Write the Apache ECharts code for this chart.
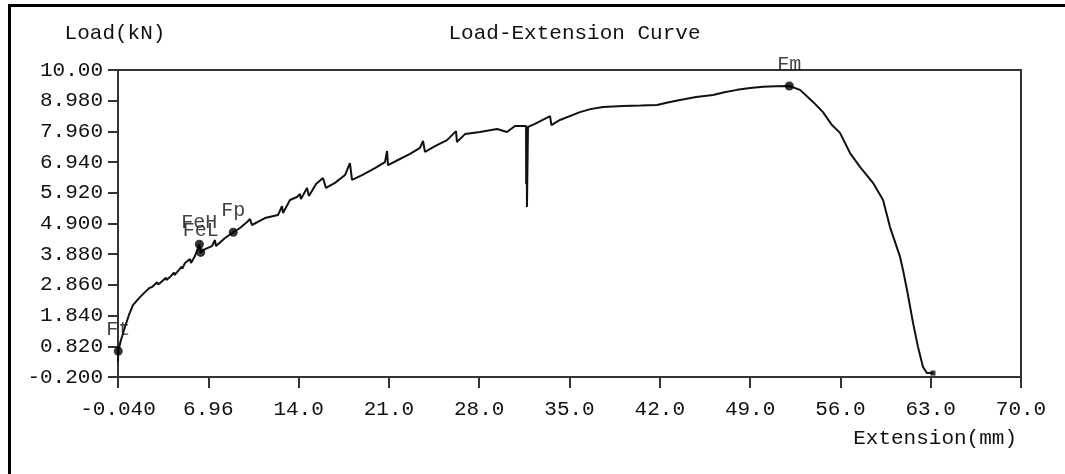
<!DOCTYPE html>
<html>
<head>
<meta charset="utf-8">
<title>Load-Extension Curve</title>
<script src="https://cdn.jsdelivr.net/npm/echarts@6/dist/echarts.min.js"></script>
<style>
  html, body { margin: 0; padding: 0; background: #fff; }
  #chart { width: 1065px; height: 474px; }
</style>
</head>
<body>
<div id="chart"></div>
<script>
// Tensile test record: extension (mm) against load (kN)
const extension = [
  -0.04, -0.02, 0.19, 0.50, 0.81, 1.12, 1.59, 2.05, 2.40, 2.45,
  2.60, 3.00, 3.05, 3.22, 3.68, 3.72, 3.99, 4.30, 4.34, 4.61,
  4.90, 4.95, 5.16, 5.54, 5.62, 5.93, 6.27, 6.37, 6.71,
  7.25, 7.48, 7.56, 8.26, 8.90, 9.42, 9.97, 10.20, 10.35, 11.36,
  12.37, 12.68, 12.76, 13.30, 13.84, 14.08, 14.15, 14.62, 14.77, 15.32,
  15.86, 16.09, 16.79, 17.57, 17.95, 18.11, 18.89, 19.89, 20.67, 20.83,
  20.90, 21.68, 22.61, 23.38, 23.62, 23.77, 24.55, 25.48, 26.18, 26.25,
  26.87, 28.04, 29.36, 30.13, 30.75, 31.61, 31.62, 31.66, 31.68, 31.76, 32.30, 33.47,
  33.58, 34.24, 35.79, 36.60, 37.58, 39.13, 40.50, 41.77, 42.60, 43.55, 44.80, 46.11, 47.00, 47.97, 49.00, 49.99,
  51.00, 52.03, 52.86, 53.87, 54.64, 55.34, 55.96, 56.74, 57.51, 58.52, 59.30,
  59.84, 60.62, 60.85, 61.16, 61.63, 62.01, 62.40, 62.71, 63.17
];
const load = [
  0.30, 0.66, 1.03, 1.46, 1.86, 2.19, 2.42, 2.62, 2.76, 2.70,
  2.79, 2.95, 2.88, 2.92, 3.10, 3.02, 3.12, 3.27, 3.19, 3.32,
  3.47, 3.40, 3.59, 3.72, 3.59, 3.82, 4.21, 3.94, 4.05,
  4.15, 4.35, 4.15, 4.42, 4.61, 4.75, 4.95, 5.05, 4.85, 5.08,
  5.18, 5.48, 5.25, 5.68, 5.78, 5.88, 5.71, 6.08, 5.81, 6.21,
  6.41, 6.08, 6.25, 6.51, 6.91, 6.35, 6.51, 6.74, 6.94, 7.31,
  6.84, 7.01, 7.21, 7.41, 7.64, 7.28, 7.47, 7.67, 7.97, 7.61,
  7.87, 7.94, 8.04, 7.94, 8.14, 8.14, 6.20, 8.12, 5.45, 8.11, 8.21, 8.47,
  8.17, 8.34, 8.60, 8.70, 8.77, 8.80, 8.82, 8.84, 8.92, 9.00, 9.10, 9.17, 9.26, 9.34, 9.40, 9.44,
  9.46, 9.47, 9.34, 8.94, 8.60, 8.17, 7.91, 7.24, 6.78, 6.25, 5.68,
  4.78, 3.79, 3.35, 2.69, 1.59, 0.80, 0.13, -0.07, -0.07
];

// Characteristic points marked on the curve
const pointNames = ['Ft', 'FeH', 'FeL', 'Fp', 'Fm'];
const pointExtension = [-0.02, 6.27, 6.37, 8.90, 52.03];
const pointLoad = [0.66, 4.21, 3.94, 4.61, 9.47];

// Axis ticks and their printed labels
const xTickValues = [-0.04, 6.964, 13.968, 20.972, 27.976, 34.98, 41.984, 48.988, 55.992, 62.996, 70.0];
const xTickLabels = ['-0.040', '6.96', '14.0', '21.0', '28.0', '35.0', '42.0', '49.0', '56.0', '63.0', '70.0'];
const yTickValues = [-0.2, 0.82, 1.84, 2.86, 3.88, 4.9, 5.92, 6.94, 7.96, 8.98, 10.0];
const yTickLabels = ['-0.200', '0.820', '1.840', '2.860', '3.880', '4.900', '5.920', '6.940', '7.960', '8.980', '10.00'];

const FONT = '"Liberation Mono", "DejaVu Sans Mono", monospace';
const INK = '#111';

function labelFor(values, labels, v) {
  let best = 0;
  for (let i = 1; i < values.length; i++) {
    if (Math.abs(values[i] - v) < Math.abs(values[best] - v)) best = i;
  }
  return labels[best];
}

const curve = extension.map((x, i) => [x, load[i]]);
const marks = pointNames.map((n, i) => ({ name: n, value: [pointExtension[i], pointLoad[i]] }));

const chart = echarts.init(document.getElementById('chart'), null, { renderer: 'canvas' });

chart.setOption({
  animation: false,
  backgroundColor: '#fff',
  textStyle: { fontFamily: FONT },
  title: {
    text: 'Load-Extension Curve',
    left: 569.5,
    textAlign: 'center',
    top: 18,
    textStyle: { fontFamily: FONT, fontSize: 21, fontWeight: 'normal', color: INK }
  },
  grid: {
    left: 118, top: 70, right: 44, bottom: 97,
    show: true, borderColor: '#333', borderWidth: 2, backgroundColor: 'transparent'
  },
  xAxis: {
    type: 'value',
    min: -0.04,
    max: 70,
    axisLine: { show: true, onZero: false, lineStyle: { color: '#333', width: 2 } },
    axisTick: {
      show: true, inside: false, length: 11,
      customValues: xTickValues,
      lineStyle: { color: '#333', width: 2 }
    },
    axisLabel: {
      show: true, margin: 22,
      customValues: xTickValues,
      fontFamily: FONT, fontSize: 21, color: INK,
      formatter: v => labelFor(xTickValues, xTickLabels, v)
    },
    splitLine: { show: false }
  },
  yAxis: {
    type: 'value',
    min: -0.2,
    max: 10,
    name: 'Load(kN)',
    nameLocation: 'end',
    nameGap: 26,
    nameTextStyle: { fontFamily: FONT, fontSize: 21, color: INK, align: 'center', padding: [0, 6, 0, 0] },
    axisLine: { show: true, onZero: false, lineStyle: { color: '#333', width: 2 } },
    axisTick: {
      show: true, inside: false, length: 10,
      customValues: yTickValues,
      lineStyle: { color: '#333', width: 2 }
    },
    axisLabel: {
      show: true, margin: 15,
      customValues: yTickValues,
      fontFamily: FONT, fontSize: 21, color: INK,
      formatter: v => labelFor(yTickValues, yTickLabels, v)
    },
    splitLine: { show: false }
  },
  graphic: [
    {
      type: 'text',
      right: 48,
      top: 428,
      style: { text: 'Extension(mm)', font: '21px ' + FONT, fill: INK }
    },
    {
      type: 'polyline',
      silent: true,
      shape: { points: [[9.5, 1000], [9.5, 5.5], [1100, 5.5]] },
      style: { stroke: '#000', lineWidth: 3, fill: null }
    }
  ],
  series: [
    {
      type: 'line',
      data: curve,
      showSymbol: false,
      smooth: false,
      lineStyle: { color: INK, width: 2 },
      z: 2
    },
    {
      type: 'scatter',
      data: marks,
      symbol: 'circle',
      symbolSize: 9,
      itemStyle: { color: '#000' },
      label: {
        show: true,
        position: 'top',
        distance: 7,
        formatter: p => p.name,
        fontFamily: FONT, fontSize: 20, color: INK
      },
      z: 3
    },
    {
      type: 'scatter',
      data: [[extension[extension.length - 1], load[load.length - 1]]],
      symbol: 'rect',
      symbolSize: 5,
      itemStyle: { color: '#000' },
      z: 3
    }
  ]
});
</script>
</body>
</html>
